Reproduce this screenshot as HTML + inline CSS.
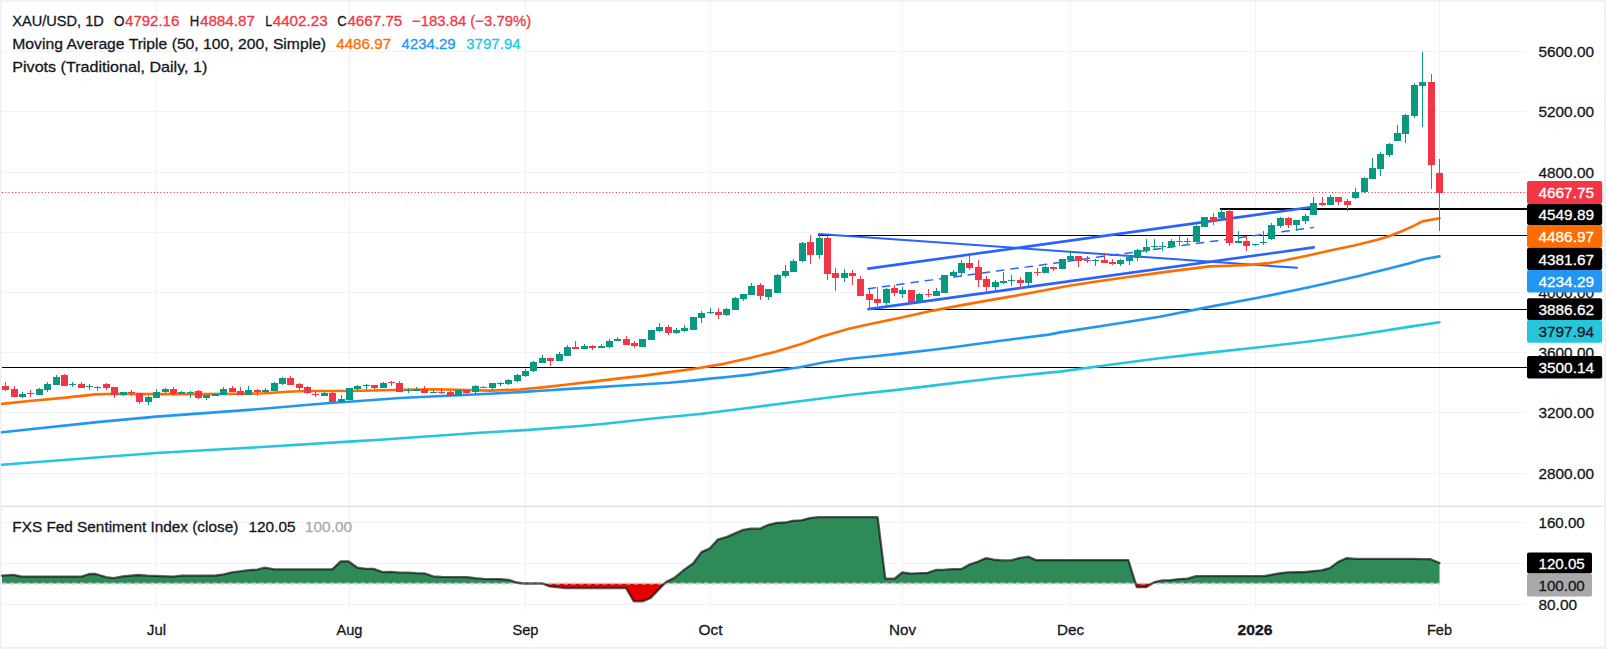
<!DOCTYPE html>
<html lang="en"><head><meta charset="utf-8"><title>XAU/USD 1D chart</title>
<style>html,body{margin:0;padding:0;background:#fff;}body{width:1606px;height:649px;overflow:hidden;}</style></head>
<body>
<svg width="1606" height="649" viewBox="0 0 1606 649" style="display:block;font-family:'Liberation Sans', Arial, sans-serif">
<rect x="0" y="0" width="1606" height="649" fill="#eff1f6"/>
<rect x="1.8" y="1.9" width="1602.2" height="644.9" rx="1.5" fill="#ffffff"/>
<path d="M156.5 2V611 M349.5 2V611 M525.5 2V611 M710.5 2V611 M902.5 2V611 M1070.5 2V611 M1255.5 2V611 M1439.5 2V611 M2 51.5H1527 M2 111.5H1527 M2 172.5H1527 M2 232.5H1527 M2 292.5H1527 M2 352.5H1527 M2 412.5H1527 M2 473.5H1527 M2 522.5H1527 M2 563.5H1527 M2 604.5H1527" stroke="#f0f2f5" stroke-width="1" fill="none" shape-rendering="crispEdges"/>
<rect x="2" y="505.5" width="1601.5" height="1.5" fill="#e0e3eb"/>
<g shape-rendering="crispEdges" fill="#000">
<rect x="1220" y="208" width="307" height="2"/>
<rect x="818" y="235" width="709" height="1"/>
<rect x="868" y="309" width="659" height="1"/>
<rect x="2" y="367" width="1525" height="1"/>
</g>
<path d="M818.8 234.0 L1297.0 267.8" fill="none" stroke="#2962ff" stroke-width="2.0" stroke-linejoin="round" stroke-linecap="round" />
<path d="M868.2 268.6 L1310.5 207.3" fill="none" stroke="#2962ff" stroke-width="2.6" stroke-linejoin="round" stroke-linecap="round" />
<path d="M868.5 309.1 L1313.8 247.4" fill="none" stroke="#2962ff" stroke-width="2.6" stroke-linejoin="round" stroke-linecap="round" />
<path d="M868.3 288.7 L1313.3 227.5" fill="none" stroke="#2962ff" stroke-width="1.5" stroke-linejoin="round" stroke-linecap="round" stroke-dasharray="7.2 7.2"/>
<path d="M2.0 464.7 L99.6 457.2 L156.4 453.0 L249.0 447.8 L348.7 441.6 L380.0 439.7 L429.8 436.2 L479.6 432.8 L525.6 430.1 L580.0 426.0 L600.0 424.2 L655.2 418.2 L700.0 414.0 L749.8 407.7 L799.6 401.2 L849.4 395.0 L899.3 389.6 L949.1 383.6 L998.9 377.8 L1048.7 372.6 L1060.0 371.6 L1109.8 364.8 L1159.6 358.3 L1209.4 352.6 L1259.3 347.2 L1309.1 341.5 L1358.9 334.7 L1408.7 326.9 L1439.5 322.2" fill="none" stroke="#26c6da" stroke-width="2.6" stroke-linejoin="round" stroke-linecap="round" />
<path d="M2.0 432.3 L99.6 421.9 L156.4 416.6 L249.0 409.9 L329.4 403.0 L348.7 401.8 L400.0 398.0 L489.4 393.7 L520.0 392.1 L544.9 390.5 L569.8 388.9 L594.7 387.4 L619.6 385.8 L644.5 384.3 L669.4 382.8 L694.4 380.4 L710.0 378.6 L724.9 377.2 L749.8 374.6 L774.7 371.0 L799.6 367.2 L824.5 362.3 L849.4 358.7 L877.4 356.0 L899.3 353.6 L932.9 349.8 L949.1 347.8 L998.9 341.0 L1048.7 334.6 L1060.0 332.4 L1109.8 324.7 L1159.6 316.7 L1209.4 306.9 L1259.3 297.5 L1309.1 287.3 L1358.9 276.0 L1389.0 268.4 L1408.7 263.5 L1423.6 259.3 L1439.5 256.4" fill="none" stroke="#2196f3" stroke-width="2.6" stroke-linejoin="round" stroke-linecap="round" />
<path d="M2.0 403.9 L31.8 400.8 L63.5 397.9 L95.3 394.4 L116.4 393.7 L148.2 394.1 L169.4 394.1 L202.0 394.1 L244.7 393.7 L265.9 393.3 L287.0 391.8 L308.2 391.0 L329.4 391.0 L362.3 390.7 L404.7 389.8 L436.0 389.3 L468.0 390.0 L489.4 390.6 L520.0 389.5 L544.9 387.1 L569.8 384.3 L594.7 381.4 L619.6 378.4 L644.5 375.6 L669.4 372.1 L694.4 368.7 L724.9 363.6 L749.8 357.9 L774.7 351.9 L799.6 344.6 L821.9 336.5 L849.7 328.6 L877.4 322.6 L905.1 316.7 L932.9 310.6 L960.6 305.4 L982.7 301.4 L1010.5 296.6 L1030.0 293.0 L1050.0 289.2 L1070.5 285.5 L1100.0 281.0 L1130.0 276.8 L1169.8 271.4 L1209.7 266.4 L1229.6 265.7 L1249.5 264.9 L1269.4 263.1 L1285.0 260.3 L1308.1 255.5 L1331.2 250.3 L1354.3 245.4 L1377.4 239.8 L1389.0 236.3 L1400.5 231.8 L1412.1 226.6 L1422.5 221.4 L1439.5 218.3" fill="none" stroke="#ff6d00" stroke-width="2.6" stroke-linejoin="round" stroke-linecap="round" />
<path d="M2 192.5H1527" stroke="#f23645" stroke-width="1" stroke-dasharray="1.1 2.2" fill="none"/>
<g shape-rendering="crispEdges">
<rect x="5" y="382" width="1" height="9" fill="#f23645"/>
<rect x="2" y="386" width="7" height="4" fill="#f23645"/>
<rect x="14" y="386" width="1" height="11" fill="#f23645"/>
<rect x="11" y="389" width="7" height="8" fill="#f23645"/>
<rect x="22" y="392" width="1" height="6" fill="#089981"/>
<rect x="19" y="394" width="7" height="3" fill="#089981"/>
<rect x="30" y="390" width="1" height="7" fill="#f23645"/>
<rect x="27" y="393" width="7" height="1" fill="#f23645"/>
<rect x="39" y="388" width="1" height="7" fill="#089981"/>
<rect x="36" y="389" width="7" height="6" fill="#089981"/>
<rect x="47" y="382" width="1" height="10" fill="#089981"/>
<rect x="44" y="384" width="7" height="6" fill="#089981"/>
<rect x="56" y="375" width="1" height="10" fill="#089981"/>
<rect x="53" y="377" width="7" height="8" fill="#089981"/>
<rect x="64" y="374" width="1" height="12" fill="#f23645"/>
<rect x="61" y="375" width="7" height="11" fill="#f23645"/>
<rect x="72" y="382" width="1" height="5" fill="#089981"/>
<rect x="69" y="384" width="7" height="1" fill="#089981"/>
<rect x="81" y="382" width="1" height="6" fill="#f23645"/>
<rect x="78" y="384" width="7" height="4" fill="#f23645"/>
<rect x="89" y="384" width="1" height="6" fill="#089981"/>
<rect x="86" y="386" width="7" height="1" fill="#089981"/>
<rect x="97" y="386" width="1" height="5" fill="#f23645"/>
<rect x="94" y="387" width="7" height="1" fill="#f23645"/>
<rect x="106" y="383" width="1" height="7" fill="#f23645"/>
<rect x="103" y="384" width="7" height="4" fill="#f23645"/>
<rect x="114" y="387" width="1" height="11" fill="#f23645"/>
<rect x="111" y="387" width="7" height="8" fill="#f23645"/>
<rect x="123" y="392" width="1" height="4" fill="#089981"/>
<rect x="120" y="392" width="7" height="3" fill="#089981"/>
<rect x="131" y="390" width="1" height="6" fill="#f23645"/>
<rect x="128" y="392" width="7" height="1" fill="#f23645"/>
<rect x="139" y="393" width="1" height="11" fill="#f23645"/>
<rect x="136" y="393" width="7" height="9" fill="#f23645"/>
<rect x="148" y="396" width="1" height="9" fill="#089981"/>
<rect x="145" y="397" width="7" height="5" fill="#089981"/>
<rect x="156" y="389" width="1" height="9" fill="#089981"/>
<rect x="153" y="392" width="7" height="6" fill="#089981"/>
<rect x="165" y="388" width="1" height="5" fill="#089981"/>
<rect x="162" y="389" width="7" height="3" fill="#089981"/>
<rect x="173" y="387" width="1" height="9" fill="#f23645"/>
<rect x="170" y="389" width="7" height="5" fill="#f23645"/>
<rect x="181" y="391" width="1" height="3" fill="#089981"/>
<rect x="178" y="392" width="7" height="2" fill="#089981"/>
<rect x="190" y="391" width="1" height="7" fill="#089981"/>
<rect x="187" y="392" width="7" height="1" fill="#089981"/>
<rect x="198" y="390" width="1" height="9" fill="#f23645"/>
<rect x="195" y="391" width="7" height="7" fill="#f23645"/>
<rect x="206" y="395" width="1" height="5" fill="#089981"/>
<rect x="203" y="395" width="7" height="3" fill="#089981"/>
<rect x="215" y="393" width="1" height="3" fill="#089981"/>
<rect x="212" y="394" width="7" height="2" fill="#089981"/>
<rect x="223" y="387" width="1" height="8" fill="#089981"/>
<rect x="220" y="389" width="7" height="6" fill="#089981"/>
<rect x="232" y="386" width="1" height="6" fill="#f23645"/>
<rect x="229" y="388" width="7" height="4" fill="#f23645"/>
<rect x="240" y="387" width="1" height="8" fill="#f23645"/>
<rect x="237" y="391" width="7" height="4" fill="#f23645"/>
<rect x="248" y="386" width="1" height="9" fill="#089981"/>
<rect x="245" y="390" width="7" height="5" fill="#089981"/>
<rect x="257" y="389" width="1" height="7" fill="#f23645"/>
<rect x="254" y="390" width="7" height="2" fill="#f23645"/>
<rect x="265" y="388" width="1" height="5" fill="#089981"/>
<rect x="262" y="390" width="7" height="2" fill="#089981"/>
<rect x="274" y="382" width="1" height="9" fill="#089981"/>
<rect x="271" y="383" width="7" height="8" fill="#089981"/>
<rect x="282" y="377" width="1" height="8" fill="#089981"/>
<rect x="279" y="378" width="7" height="6" fill="#089981"/>
<rect x="290" y="376" width="1" height="9" fill="#f23645"/>
<rect x="287" y="378" width="7" height="7" fill="#f23645"/>
<rect x="299" y="383" width="1" height="7" fill="#f23645"/>
<rect x="296" y="384" width="7" height="4" fill="#f23645"/>
<rect x="307" y="386" width="1" height="8" fill="#f23645"/>
<rect x="304" y="387" width="7" height="6" fill="#f23645"/>
<rect x="315" y="391" width="1" height="6" fill="#f23645"/>
<rect x="312" y="394" width="7" height="1" fill="#f23645"/>
<rect x="324" y="392" width="1" height="4" fill="#089981"/>
<rect x="321" y="393" width="7" height="3" fill="#089981"/>
<rect x="332" y="392" width="1" height="10" fill="#f23645"/>
<rect x="329" y="393" width="7" height="9" fill="#f23645"/>
<rect x="341" y="395" width="1" height="7" fill="#089981"/>
<rect x="338" y="399" width="7" height="3" fill="#089981"/>
<rect x="349" y="388" width="1" height="12" fill="#089981"/>
<rect x="346" y="388" width="7" height="12" fill="#089981"/>
<rect x="357" y="385" width="1" height="6" fill="#089981"/>
<rect x="354" y="386" width="7" height="3" fill="#089981"/>
<rect x="366" y="384" width="1" height="6" fill="#089981"/>
<rect x="363" y="385" width="7" height="1" fill="#089981"/>
<rect x="374" y="385" width="1" height="4" fill="#f23645"/>
<rect x="371" y="385" width="7" height="3" fill="#f23645"/>
<rect x="383" y="382" width="1" height="6" fill="#089981"/>
<rect x="380" y="383" width="7" height="5" fill="#089981"/>
<rect x="391" y="381" width="1" height="5" fill="#f23645"/>
<rect x="388" y="382" width="7" height="1" fill="#f23645"/>
<rect x="399" y="381" width="1" height="11" fill="#f23645"/>
<rect x="396" y="383" width="7" height="9" fill="#f23645"/>
<rect x="408" y="388" width="1" height="5" fill="#089981"/>
<rect x="405" y="390" width="7" height="1" fill="#089981"/>
<rect x="416" y="387" width="1" height="4" fill="#089981"/>
<rect x="413" y="389" width="7" height="2" fill="#089981"/>
<rect x="424" y="386" width="1" height="7" fill="#f23645"/>
<rect x="421" y="389" width="7" height="4" fill="#f23645"/>
<rect x="433" y="390" width="1" height="3" fill="#089981"/>
<rect x="430" y="392" width="7" height="1" fill="#089981"/>
<rect x="441" y="389" width="1" height="5" fill="#f23645"/>
<rect x="438" y="392" width="7" height="1" fill="#f23645"/>
<rect x="450" y="391" width="1" height="5" fill="#f23645"/>
<rect x="447" y="392" width="7" height="4" fill="#f23645"/>
<rect x="458" y="390" width="1" height="6" fill="#089981"/>
<rect x="455" y="390" width="7" height="6" fill="#089981"/>
<rect x="466" y="390" width="1" height="4" fill="#f23645"/>
<rect x="463" y="390" width="7" height="3" fill="#f23645"/>
<rect x="475" y="385" width="1" height="9" fill="#089981"/>
<rect x="472" y="386" width="7" height="6" fill="#089981"/>
<rect x="483" y="386" width="1" height="2" fill="#f23645"/>
<rect x="480" y="387" width="7" height="1" fill="#f23645"/>
<rect x="492" y="383" width="1" height="7" fill="#089981"/>
<rect x="489" y="383" width="7" height="5" fill="#089981"/>
<rect x="500" y="382" width="1" height="4" fill="#089981"/>
<rect x="497" y="383" width="7" height="1" fill="#089981"/>
<rect x="508" y="379" width="1" height="6" fill="#089981"/>
<rect x="505" y="380" width="7" height="4" fill="#089981"/>
<rect x="517" y="374" width="1" height="8" fill="#089981"/>
<rect x="514" y="375" width="7" height="6" fill="#089981"/>
<rect x="525" y="369" width="1" height="8" fill="#089981"/>
<rect x="522" y="371" width="7" height="5" fill="#089981"/>
<rect x="533" y="361" width="1" height="11" fill="#089981"/>
<rect x="530" y="362" width="7" height="9" fill="#089981"/>
<rect x="542" y="355" width="1" height="8" fill="#089981"/>
<rect x="539" y="358" width="7" height="5" fill="#089981"/>
<rect x="550" y="358" width="1" height="8" fill="#f23645"/>
<rect x="547" y="358" width="7" height="3" fill="#f23645"/>
<rect x="559" y="352" width="1" height="9" fill="#089981"/>
<rect x="556" y="354" width="7" height="7" fill="#089981"/>
<rect x="567" y="345" width="1" height="11" fill="#089981"/>
<rect x="564" y="347" width="7" height="9" fill="#089981"/>
<rect x="575" y="341" width="1" height="8" fill="#f23645"/>
<rect x="572" y="347" width="7" height="2" fill="#f23645"/>
<rect x="584" y="344" width="1" height="5" fill="#089981"/>
<rect x="581" y="346" width="7" height="3" fill="#089981"/>
<rect x="592" y="345" width="1" height="5" fill="#f23645"/>
<rect x="589" y="346" width="7" height="2" fill="#f23645"/>
<rect x="601" y="344" width="1" height="4" fill="#089981"/>
<rect x="598" y="346" width="7" height="2" fill="#089981"/>
<rect x="609" y="339" width="1" height="9" fill="#089981"/>
<rect x="606" y="341" width="7" height="6" fill="#089981"/>
<rect x="617" y="337" width="1" height="4" fill="#089981"/>
<rect x="614" y="339" width="7" height="2" fill="#089981"/>
<rect x="626" y="336" width="1" height="9" fill="#f23645"/>
<rect x="623" y="339" width="7" height="6" fill="#f23645"/>
<rect x="634" y="341" width="1" height="7" fill="#f23645"/>
<rect x="631" y="343" width="7" height="3" fill="#f23645"/>
<rect x="642" y="339" width="1" height="8" fill="#089981"/>
<rect x="639" y="339" width="7" height="8" fill="#089981"/>
<rect x="651" y="330" width="1" height="10" fill="#089981"/>
<rect x="648" y="330" width="7" height="10" fill="#089981"/>
<rect x="659" y="323" width="1" height="9" fill="#089981"/>
<rect x="656" y="327" width="7" height="4" fill="#089981"/>
<rect x="668" y="325" width="1" height="10" fill="#f23645"/>
<rect x="665" y="327" width="7" height="6" fill="#f23645"/>
<rect x="676" y="328" width="1" height="6" fill="#089981"/>
<rect x="673" y="330" width="7" height="3" fill="#089981"/>
<rect x="684" y="325" width="1" height="7" fill="#089981"/>
<rect x="681" y="328" width="7" height="3" fill="#089981"/>
<rect x="693" y="317" width="1" height="13" fill="#089981"/>
<rect x="690" y="317" width="7" height="13" fill="#089981"/>
<rect x="701" y="311" width="1" height="12" fill="#089981"/>
<rect x="698" y="313" width="7" height="5" fill="#089981"/>
<rect x="710" y="308" width="1" height="6" fill="#089981"/>
<rect x="707" y="312" width="7" height="1" fill="#089981"/>
<rect x="718" y="308" width="1" height="11" fill="#f23645"/>
<rect x="715" y="312" width="7" height="3" fill="#f23645"/>
<rect x="726" y="308" width="1" height="8" fill="#089981"/>
<rect x="723" y="309" width="7" height="6" fill="#089981"/>
<rect x="735" y="297" width="1" height="13" fill="#089981"/>
<rect x="732" y="298" width="7" height="12" fill="#089981"/>
<rect x="743" y="294" width="1" height="7" fill="#089981"/>
<rect x="740" y="294" width="7" height="5" fill="#089981"/>
<rect x="751" y="283" width="1" height="12" fill="#089981"/>
<rect x="748" y="286" width="7" height="9" fill="#089981"/>
<rect x="760" y="283" width="1" height="17" fill="#f23645"/>
<rect x="757" y="285" width="7" height="11" fill="#f23645"/>
<rect x="768" y="289" width="1" height="11" fill="#089981"/>
<rect x="765" y="289" width="7" height="8" fill="#089981"/>
<rect x="777" y="274" width="1" height="19" fill="#089981"/>
<rect x="774" y="275" width="7" height="18" fill="#089981"/>
<rect x="785" y="265" width="1" height="13" fill="#089981"/>
<rect x="782" y="271" width="7" height="5" fill="#089981"/>
<rect x="793" y="259" width="1" height="13" fill="#089981"/>
<rect x="790" y="261" width="7" height="11" fill="#089981"/>
<rect x="802" y="242" width="1" height="20" fill="#089981"/>
<rect x="799" y="243" width="7" height="18" fill="#089981"/>
<rect x="810" y="235" width="1" height="29" fill="#f23645"/>
<rect x="807" y="242" width="7" height="13" fill="#f23645"/>
<rect x="819" y="235" width="1" height="24" fill="#089981"/>
<rect x="816" y="238" width="7" height="17" fill="#089981"/>
<rect x="827" y="236" width="1" height="44" fill="#f23645"/>
<rect x="824" y="238" width="7" height="36" fill="#f23645"/>
<rect x="835" y="268" width="1" height="23" fill="#f23645"/>
<rect x="832" y="273" width="7" height="5" fill="#f23645"/>
<rect x="844" y="269" width="1" height="13" fill="#089981"/>
<rect x="841" y="273" width="7" height="5" fill="#089981"/>
<rect x="852" y="270" width="1" height="15" fill="#f23645"/>
<rect x="849" y="273" width="7" height="3" fill="#f23645"/>
<rect x="860" y="276" width="1" height="20" fill="#f23645"/>
<rect x="857" y="279" width="7" height="17" fill="#f23645"/>
<rect x="869" y="289" width="1" height="20" fill="#f23645"/>
<rect x="866" y="294" width="7" height="6" fill="#f23645"/>
<rect x="877" y="287" width="1" height="19" fill="#f23645"/>
<rect x="874" y="299" width="7" height="4" fill="#f23645"/>
<rect x="886" y="288" width="1" height="17" fill="#089981"/>
<rect x="883" y="289" width="7" height="14" fill="#089981"/>
<rect x="894" y="285" width="1" height="11" fill="#f23645"/>
<rect x="891" y="288" width="7" height="5" fill="#f23645"/>
<rect x="902" y="287" width="1" height="11" fill="#089981"/>
<rect x="899" y="290" width="7" height="4" fill="#089981"/>
<rect x="911" y="290" width="1" height="13" fill="#f23645"/>
<rect x="908" y="290" width="7" height="12" fill="#f23645"/>
<rect x="919" y="293" width="1" height="10" fill="#089981"/>
<rect x="916" y="294" width="7" height="8" fill="#089981"/>
<rect x="928" y="289" width="1" height="8" fill="#f23645"/>
<rect x="925" y="294" width="7" height="1" fill="#f23645"/>
<rect x="936" y="288" width="1" height="8" fill="#089981"/>
<rect x="933" y="291" width="7" height="5" fill="#089981"/>
<rect x="944" y="275" width="1" height="18" fill="#089981"/>
<rect x="941" y="275" width="7" height="18" fill="#089981"/>
<rect x="953" y="270" width="1" height="7" fill="#089981"/>
<rect x="950" y="272" width="7" height="4" fill="#089981"/>
<rect x="961" y="260" width="1" height="17" fill="#089981"/>
<rect x="958" y="263" width="7" height="10" fill="#089981"/>
<rect x="969" y="255" width="1" height="15" fill="#f23645"/>
<rect x="966" y="263" width="7" height="5" fill="#f23645"/>
<rect x="978" y="260" width="1" height="27" fill="#f23645"/>
<rect x="975" y="267" width="7" height="13" fill="#f23645"/>
<rect x="986" y="276" width="1" height="15" fill="#f23645"/>
<rect x="983" y="279" width="7" height="8" fill="#f23645"/>
<rect x="995" y="280" width="1" height="12" fill="#089981"/>
<rect x="992" y="282" width="7" height="5" fill="#089981"/>
<rect x="1003" y="272" width="1" height="12" fill="#089981"/>
<rect x="1000" y="281" width="7" height="2" fill="#089981"/>
<rect x="1011" y="275" width="1" height="11" fill="#089981"/>
<rect x="1008" y="280" width="7" height="1" fill="#089981"/>
<rect x="1020" y="277" width="1" height="12" fill="#f23645"/>
<rect x="1017" y="280" width="7" height="3" fill="#f23645"/>
<rect x="1028" y="272" width="1" height="14" fill="#089981"/>
<rect x="1025" y="272" width="7" height="11" fill="#089981"/>
<rect x="1037" y="268" width="1" height="8" fill="#f23645"/>
<rect x="1034" y="272" width="7" height="1" fill="#f23645"/>
<rect x="1045" y="266" width="1" height="7" fill="#089981"/>
<rect x="1042" y="267" width="7" height="6" fill="#089981"/>
<rect x="1053" y="267" width="1" height="4" fill="#f23645"/>
<rect x="1050" y="267" width="7" height="2" fill="#f23645"/>
<rect x="1062" y="259" width="1" height="10" fill="#089981"/>
<rect x="1059" y="259" width="7" height="10" fill="#089981"/>
<rect x="1070" y="252" width="1" height="9" fill="#089981"/>
<rect x="1067" y="256" width="7" height="4" fill="#089981"/>
<rect x="1078" y="256" width="1" height="11" fill="#f23645"/>
<rect x="1075" y="256" width="7" height="5" fill="#f23645"/>
<rect x="1087" y="256" width="1" height="7" fill="#f23645"/>
<rect x="1084" y="260" width="7" height="1" fill="#f23645"/>
<rect x="1095" y="259" width="1" height="7" fill="#089981"/>
<rect x="1092" y="260" width="7" height="1" fill="#089981"/>
<rect x="1104" y="253" width="1" height="10" fill="#f23645"/>
<rect x="1101" y="260" width="7" height="3" fill="#f23645"/>
<rect x="1112" y="259" width="1" height="6" fill="#f23645"/>
<rect x="1109" y="262" width="7" height="2" fill="#f23645"/>
<rect x="1120" y="259" width="1" height="7" fill="#089981"/>
<rect x="1117" y="260" width="7" height="4" fill="#089981"/>
<rect x="1129" y="256" width="1" height="9" fill="#089981"/>
<rect x="1126" y="257" width="7" height="4" fill="#089981"/>
<rect x="1137" y="249" width="1" height="12" fill="#089981"/>
<rect x="1134" y="250" width="7" height="8" fill="#089981"/>
<rect x="1146" y="239" width="1" height="14" fill="#089981"/>
<rect x="1143" y="247" width="7" height="4" fill="#089981"/>
<rect x="1154" y="239" width="1" height="10" fill="#089981"/>
<rect x="1151" y="246" width="7" height="1" fill="#089981"/>
<rect x="1162" y="242" width="1" height="9" fill="#089981"/>
<rect x="1159" y="246" width="7" height="1" fill="#089981"/>
<rect x="1171" y="239" width="1" height="8" fill="#089981"/>
<rect x="1168" y="241" width="7" height="6" fill="#089981"/>
<rect x="1179" y="236" width="1" height="10" fill="#f23645"/>
<rect x="1176" y="241" width="7" height="1" fill="#f23645"/>
<rect x="1187" y="238" width="1" height="7" fill="#089981"/>
<rect x="1184" y="241" width="7" height="1" fill="#089981"/>
<rect x="1196" y="225" width="1" height="17" fill="#089981"/>
<rect x="1193" y="226" width="7" height="16" fill="#089981"/>
<rect x="1204" y="217" width="1" height="10" fill="#089981"/>
<rect x="1201" y="217" width="7" height="10" fill="#089981"/>
<rect x="1213" y="213" width="1" height="12" fill="#f23645"/>
<rect x="1210" y="217" width="7" height="4" fill="#f23645"/>
<rect x="1221" y="209" width="1" height="12" fill="#089981"/>
<rect x="1218" y="212" width="7" height="6" fill="#089981"/>
<rect x="1229" y="209" width="1" height="37" fill="#f23645"/>
<rect x="1226" y="211" width="7" height="32" fill="#f23645"/>
<rect x="1238" y="231" width="1" height="12" fill="#089981"/>
<rect x="1235" y="241" width="7" height="2" fill="#089981"/>
<rect x="1246" y="236" width="1" height="15" fill="#f23645"/>
<rect x="1243" y="241" width="7" height="5" fill="#f23645"/>
<rect x="1255" y="244" width="1" height="2" fill="#089981"/>
<rect x="1252" y="244" width="7" height="1" fill="#089981"/>
<rect x="1263" y="231" width="1" height="14" fill="#089981"/>
<rect x="1260" y="242" width="7" height="1" fill="#089981"/>
<rect x="1271" y="223" width="1" height="17" fill="#089981"/>
<rect x="1268" y="225" width="7" height="14" fill="#089981"/>
<rect x="1280" y="217" width="1" height="11" fill="#089981"/>
<rect x="1277" y="218" width="7" height="8" fill="#089981"/>
<rect x="1288" y="217" width="1" height="11" fill="#f23645"/>
<rect x="1285" y="218" width="7" height="7" fill="#f23645"/>
<rect x="1296" y="220" width="1" height="11" fill="#089981"/>
<rect x="1293" y="220" width="7" height="5" fill="#089981"/>
<rect x="1305" y="214" width="1" height="10" fill="#089981"/>
<rect x="1302" y="216" width="7" height="5" fill="#089981"/>
<rect x="1313" y="197" width="1" height="18" fill="#089981"/>
<rect x="1310" y="203" width="7" height="12" fill="#089981"/>
<rect x="1322" y="197" width="1" height="9" fill="#f23645"/>
<rect x="1319" y="203" width="7" height="2" fill="#f23645"/>
<rect x="1330" y="195" width="1" height="10" fill="#089981"/>
<rect x="1327" y="197" width="7" height="8" fill="#089981"/>
<rect x="1338" y="197" width="1" height="8" fill="#f23645"/>
<rect x="1335" y="197" width="7" height="5" fill="#f23645"/>
<rect x="1347" y="199" width="1" height="12" fill="#f23645"/>
<rect x="1344" y="201" width="7" height="4" fill="#f23645"/>
<rect x="1355" y="188" width="1" height="11" fill="#089981"/>
<rect x="1352" y="192" width="7" height="6" fill="#089981"/>
<rect x="1364" y="177" width="1" height="16" fill="#089981"/>
<rect x="1361" y="178" width="7" height="14" fill="#089981"/>
<rect x="1372" y="158" width="1" height="21" fill="#089981"/>
<rect x="1369" y="168" width="7" height="11" fill="#089981"/>
<rect x="1380" y="152" width="1" height="24" fill="#089981"/>
<rect x="1377" y="154" width="7" height="15" fill="#089981"/>
<rect x="1389" y="143" width="1" height="14" fill="#089981"/>
<rect x="1386" y="144" width="7" height="11" fill="#089981"/>
<rect x="1397" y="125" width="1" height="16" fill="#089981"/>
<rect x="1394" y="133" width="7" height="8" fill="#089981"/>
<rect x="1405" y="114" width="1" height="29" fill="#089981"/>
<rect x="1402" y="115" width="7" height="19" fill="#089981"/>
<rect x="1414" y="83" width="1" height="35" fill="#089981"/>
<rect x="1411" y="85" width="7" height="31" fill="#089981"/>
<rect x="1422" y="52" width="1" height="75" fill="#089981"/>
<rect x="1419" y="82" width="7" height="4" fill="#089981"/>
<rect x="1431" y="74" width="1" height="115" fill="#f23645"/>
<rect x="1428" y="82" width="7" height="83" fill="#f23645"/>
<rect x="1439" y="159" width="1" height="72" fill="#f23645"/>
<rect x="1436" y="173" width="7" height="20" fill="#f23645"/>
</g>
<defs><clipPath id="ca"><rect x="0" y="500" width="1606" height="84"/></clipPath><clipPath id="cb"><rect x="0" y="584" width="1606" height="40"/></clipPath></defs>
<path d="M2.0 575.6 L13.4 574.9 L21.9 576.6 L81.5 576.6 L89.1 574.0 L95.8 574.0 L105.9 577.2 L113.5 578.2 L122.7 576.4 L137.9 575.0 L147.9 575.7 L173.2 576.6 L181.6 575.7 L215.2 575.6 L223.6 574.4 L232.0 572.4 L248.8 570.2 L257.2 569.7 L264.8 567.7 L274.3 569.3 L332.3 569.3 L340.7 561.3 L348.3 561.3 L357.5 567.7 L365.9 568.8 L373.5 568.8 L382.7 572.2 L391.1 571.9 L399.5 572.7 L408.0 572.7 L416.4 573.2 L424.8 573.5 L433.2 576.4 L441.6 576.9 L466.8 577.2 L475.2 578.2 L483.6 578.9 L500.4 579.1 L508.8 579.9 L516.8 582.5 L523.6 583.5 L542.2 583.5 L549.8 586.4 L565.9 588.1 L626.1 588.1 L633.7 601.3 L643.0 601.3 L650.7 597.9 L665.9 582.1 L674.4 577.9 L684.6 569.4 L693.1 563.5 L701.5 552.1 L710.0 548.2 L717.6 539.7 L726.9 536.9 L743.1 529.9 L750.7 528.7 L760.0 528.7 L768.5 524.8 L776.8 522.8 L785.3 522.5 L792.9 520.8 L801.4 520.3 L809.8 518.1 L818.3 517.2 L877.6 517.2 L885.3 578.7 L894.6 578.7 L902.2 572.5 L910.7 573.6 L927.6 572.8 L936.1 569.9 L944.6 569.7 L953.1 569.1 L961.5 569.1 L969.2 564.7 L977.6 561.8 L986.1 558.1 L993.7 559.6 L1002.2 560.4 L1010.7 560.4 L1019.2 558.1 L1028.5 556.7 L1035.9 560.1 L1128.3 560.1 L1136.8 587.2 L1146.1 587.2 L1154.6 582.1 L1162.2 580.4 L1170.7 580.1 L1179.2 579.1 L1187.6 578.7 L1196.1 576.2 L1263.9 576.2 L1270.7 575.0 L1279.2 573.3 L1287.6 572.3 L1305.3 572.0 L1321.4 570.3 L1329.8 568.1 L1338.3 561.8 L1346.8 558.1 L1356.1 558.9 L1413.7 558.9 L1422.2 559.2 L1430.7 559.2 L1439.5 563.0 L1439.5 583.5 L2.0 583.5 Z" fill="#2e8b57" clip-path="url(#ca)"/>
<path d="M2.0 575.6 L13.4 574.9 L21.9 576.6 L81.5 576.6 L89.1 574.0 L95.8 574.0 L105.9 577.2 L113.5 578.2 L122.7 576.4 L137.9 575.0 L147.9 575.7 L173.2 576.6 L181.6 575.7 L215.2 575.6 L223.6 574.4 L232.0 572.4 L248.8 570.2 L257.2 569.7 L264.8 567.7 L274.3 569.3 L332.3 569.3 L340.7 561.3 L348.3 561.3 L357.5 567.7 L365.9 568.8 L373.5 568.8 L382.7 572.2 L391.1 571.9 L399.5 572.7 L408.0 572.7 L416.4 573.2 L424.8 573.5 L433.2 576.4 L441.6 576.9 L466.8 577.2 L475.2 578.2 L483.6 578.9 L500.4 579.1 L508.8 579.9 L516.8 582.5 L523.6 583.5 L542.2 583.5 L549.8 586.4 L565.9 588.1 L626.1 588.1 L633.7 601.3 L643.0 601.3 L650.7 597.9 L665.9 582.1 L674.4 577.9 L684.6 569.4 L693.1 563.5 L701.5 552.1 L710.0 548.2 L717.6 539.7 L726.9 536.9 L743.1 529.9 L750.7 528.7 L760.0 528.7 L768.5 524.8 L776.8 522.8 L785.3 522.5 L792.9 520.8 L801.4 520.3 L809.8 518.1 L818.3 517.2 L877.6 517.2 L885.3 578.7 L894.6 578.7 L902.2 572.5 L910.7 573.6 L927.6 572.8 L936.1 569.9 L944.6 569.7 L953.1 569.1 L961.5 569.1 L969.2 564.7 L977.6 561.8 L986.1 558.1 L993.7 559.6 L1002.2 560.4 L1010.7 560.4 L1019.2 558.1 L1028.5 556.7 L1035.9 560.1 L1128.3 560.1 L1136.8 587.2 L1146.1 587.2 L1154.6 582.1 L1162.2 580.4 L1170.7 580.1 L1179.2 579.1 L1187.6 578.7 L1196.1 576.2 L1263.9 576.2 L1270.7 575.0 L1279.2 573.3 L1287.6 572.3 L1305.3 572.0 L1321.4 570.3 L1329.8 568.1 L1338.3 561.8 L1346.8 558.1 L1356.1 558.9 L1413.7 558.9 L1422.2 559.2 L1430.7 559.2 L1439.5 563.0 L1439.5 583.5 L2.0 583.5 Z" fill="#e60000" clip-path="url(#cb)"/>
<path d="M2 583.5H1439.5" stroke="#c8c8c8" stroke-width="2.2" stroke-dasharray="4.3 3.5" fill="none"/>
<path d="M2.0 575.6 L13.4 574.9 L21.9 576.6 L81.5 576.6 L89.1 574.0 L95.8 574.0 L105.9 577.2 L113.5 578.2 L122.7 576.4 L137.9 575.0 L147.9 575.7 L173.2 576.6 L181.6 575.7 L215.2 575.6 L223.6 574.4 L232.0 572.4 L248.8 570.2 L257.2 569.7 L264.8 567.7 L274.3 569.3 L332.3 569.3 L340.7 561.3 L348.3 561.3 L357.5 567.7 L365.9 568.8 L373.5 568.8 L382.7 572.2 L391.1 571.9 L399.5 572.7 L408.0 572.7 L416.4 573.2 L424.8 573.5 L433.2 576.4 L441.6 576.9 L466.8 577.2 L475.2 578.2 L483.6 578.9 L500.4 579.1 L508.8 579.9 L516.8 582.5 L523.6 583.5 L542.2 583.5 L549.8 586.4 L565.9 588.1 L626.1 588.1 L633.7 601.3 L643.0 601.3 L650.7 597.9 L665.9 582.1 L674.4 577.9 L684.6 569.4 L693.1 563.5 L701.5 552.1 L710.0 548.2 L717.6 539.7 L726.9 536.9 L743.1 529.9 L750.7 528.7 L760.0 528.7 L768.5 524.8 L776.8 522.8 L785.3 522.5 L792.9 520.8 L801.4 520.3 L809.8 518.1 L818.3 517.2 L877.6 517.2 L885.3 578.7 L894.6 578.7 L902.2 572.5 L910.7 573.6 L927.6 572.8 L936.1 569.9 L944.6 569.7 L953.1 569.1 L961.5 569.1 L969.2 564.7 L977.6 561.8 L986.1 558.1 L993.7 559.6 L1002.2 560.4 L1010.7 560.4 L1019.2 558.1 L1028.5 556.7 L1035.9 560.1 L1128.3 560.1 L1136.8 587.2 L1146.1 587.2 L1154.6 582.1 L1162.2 580.4 L1170.7 580.1 L1179.2 579.1 L1187.6 578.7 L1196.1 576.2 L1263.9 576.2 L1270.7 575.0 L1279.2 573.3 L1287.6 572.3 L1305.3 572.0 L1321.4 570.3 L1329.8 568.1 L1338.3 561.8 L1346.8 558.1 L1356.1 558.9 L1413.7 558.9 L1422.2 559.2 L1430.7 559.2 L1439.5 563.0" fill="none" stroke="#000" stroke-width="2.3" stroke-linejoin="round" stroke-linecap="round" stroke-opacity="0.62"/>
<text x="1538.5" y="57.2" font-size="15.4" fill="#131722" stroke="#131722" stroke-width="0.3" font-weight="normal" textLength="55.5" lengthAdjust="spacingAndGlyphs">5600.00</text>
<text x="1538.5" y="117.2" font-size="15.4" fill="#131722" stroke="#131722" stroke-width="0.3" font-weight="normal" textLength="55.5" lengthAdjust="spacingAndGlyphs">5200.00</text>
<text x="1538.5" y="178.2" font-size="15.4" fill="#131722" stroke="#131722" stroke-width="0.3" font-weight="normal" textLength="55.5" lengthAdjust="spacingAndGlyphs">4800.00</text>
<text x="1538.5" y="238.2" font-size="15.4" fill="#131722" stroke="#131722" stroke-width="0.3" font-weight="normal" textLength="55.5" lengthAdjust="spacingAndGlyphs">4400.00</text>
<text x="1538.5" y="298.2" font-size="15.4" fill="#131722" stroke="#131722" stroke-width="0.3" font-weight="normal" textLength="55.5" lengthAdjust="spacingAndGlyphs">4000.00</text>
<text x="1538.5" y="358.2" font-size="15.4" fill="#131722" stroke="#131722" stroke-width="0.3" font-weight="normal" textLength="55.5" lengthAdjust="spacingAndGlyphs">3600.00</text>
<text x="1538.5" y="418.2" font-size="15.4" fill="#131722" stroke="#131722" stroke-width="0.3" font-weight="normal" textLength="55.5" lengthAdjust="spacingAndGlyphs">3200.00</text>
<text x="1538.5" y="479.2" font-size="15.4" fill="#131722" stroke="#131722" stroke-width="0.3" font-weight="normal" textLength="55.5" lengthAdjust="spacingAndGlyphs">2800.00</text>
<text x="1538.5" y="528.2" font-size="15.4" fill="#131722" stroke="#131722" stroke-width="0.3" font-weight="normal" textLength="46.2" lengthAdjust="spacingAndGlyphs">160.00</text>
<text x="1538.5" y="610.2" font-size="15.4" fill="#131722" stroke="#131722" stroke-width="0.3" font-weight="normal" textLength="38.5" lengthAdjust="spacingAndGlyphs">80.00</text>
<rect x="1527" y="181.1" width="75.2" height="22.8" rx="2" fill="#f23645"/>
<text x="1538.5" y="198.1" font-size="15.4" fill="#fff" stroke="#fff" stroke-width="0.3" font-weight="normal" textLength="55.5" lengthAdjust="spacingAndGlyphs">4667.75</text>
<rect x="1527" y="203.9" width="75.2" height="21.1" rx="2" fill="#000"/>
<text x="1538.5" y="220.0" font-size="15.4" fill="#fff" stroke="#fff" stroke-width="0.3" font-weight="normal" textLength="55.5" lengthAdjust="spacingAndGlyphs">4549.89</text>
<rect x="1527" y="225" width="75.2" height="22.8" rx="2" fill="#ff6d00"/>
<text x="1538.5" y="242.0" font-size="15.4" fill="#fff" stroke="#fff" stroke-width="0.3" font-weight="normal" textLength="55.5" lengthAdjust="spacingAndGlyphs">4486.97</text>
<rect x="1527" y="247.8" width="75.2" height="22.2" rx="2" fill="#000"/>
<text x="1538.5" y="264.5" font-size="15.4" fill="#fff" stroke="#fff" stroke-width="0.3" font-weight="normal" textLength="55.5" lengthAdjust="spacingAndGlyphs">4381.67</text>
<rect x="1527" y="270" width="75.2" height="22.6" rx="2" fill="#2196f3"/>
<text x="1538.5" y="286.9" font-size="15.4" fill="#fff" stroke="#fff" stroke-width="0.3" font-weight="normal" textLength="55.5" lengthAdjust="spacingAndGlyphs">4234.29</text>
<rect x="1527" y="298.2" width="75.2" height="21.8" rx="2" fill="#000"/>
<text x="1538.5" y="314.7" font-size="15.4" fill="#fff" stroke="#fff" stroke-width="0.3" font-weight="normal" textLength="55.5" lengthAdjust="spacingAndGlyphs">3886.62</text>
<rect x="1527" y="320" width="75.2" height="22.7" rx="2" fill="#26c6da"/>
<text x="1538.5" y="337.0" font-size="15.4" fill="#131722" stroke="#131722" stroke-width="0.3" font-weight="normal" textLength="55.5" lengthAdjust="spacingAndGlyphs">3797.94</text>
<rect x="1527" y="356" width="75.2" height="22.6" rx="2" fill="#000"/>
<text x="1538.5" y="372.9" font-size="15.4" fill="#fff" stroke="#fff" stroke-width="0.3" font-weight="normal" textLength="55.5" lengthAdjust="spacingAndGlyphs">3500.14</text>
<rect x="1527" y="552.5" width="65" height="21.1" rx="2" fill="#000"/>
<text x="1538.5" y="568.6" font-size="15.4" fill="#fff" stroke="#fff" stroke-width="0.3" font-weight="normal" textLength="46.2" lengthAdjust="spacingAndGlyphs">120.05</text>
<rect x="1527" y="573.6" width="65" height="22.9" rx="2" fill="#a9a9a9"/>
<text x="1538.5" y="590.6" font-size="15.4" fill="#131722" stroke="#131722" stroke-width="0.3" font-weight="normal" textLength="46.2" lengthAdjust="spacingAndGlyphs">100.00</text>
<text x="147.0" y="635" font-size="15.4" fill="#131722" stroke="#131722" stroke-width="0.3" font-weight="normal" textLength="19" lengthAdjust="spacingAndGlyphs">Jul</text>
<text x="336.5" y="635" font-size="15.4" fill="#131722" stroke="#131722" stroke-width="0.3" font-weight="normal" textLength="26" lengthAdjust="spacingAndGlyphs">Aug</text>
<text x="512.5" y="635" font-size="15.4" fill="#131722" stroke="#131722" stroke-width="0.3" font-weight="normal" textLength="26" lengthAdjust="spacingAndGlyphs">Sep</text>
<text x="698.5" y="635" font-size="15.4" fill="#131722" stroke="#131722" stroke-width="0.3" font-weight="normal" textLength="24" lengthAdjust="spacingAndGlyphs">Oct</text>
<text x="889.0" y="635" font-size="15.4" fill="#131722" stroke="#131722" stroke-width="0.3" font-weight="normal" textLength="27" lengthAdjust="spacingAndGlyphs">Nov</text>
<text x="1057.0" y="635" font-size="15.4" fill="#131722" stroke="#131722" stroke-width="0.3" font-weight="normal" textLength="27" lengthAdjust="spacingAndGlyphs">Dec</text>
<text x="1237.5" y="635" font-size="15.4" fill="#131722" stroke="#131722" stroke-width="0.3" font-weight="bold" textLength="35" lengthAdjust="spacingAndGlyphs">2026</text>
<text x="1427.0" y="635" font-size="15.4" fill="#131722" stroke="#131722" stroke-width="0.3" font-weight="normal" textLength="25" lengthAdjust="spacingAndGlyphs">Feb</text>
<text x="12.3" y="26.3" font-size="15" fill="#131722" stroke="#131722" stroke-width="0.3" textLength="91.5" lengthAdjust="spacingAndGlyphs">XAU/USD, 1D</text>
<text x="113.9" y="26.3" font-size="15" fill="#131722" stroke="#131722" stroke-width="0.3" textLength="10.5" lengthAdjust="spacingAndGlyphs">O</text>
<text x="125.1" y="26.3" font-size="15" fill="#f23645" stroke="#f23645" stroke-width="0.3" textLength="54.2" lengthAdjust="spacingAndGlyphs">4792.16</text>
<text x="189.8" y="26.3" font-size="15" fill="#131722" stroke="#131722" stroke-width="0.3" textLength="9.5" lengthAdjust="spacingAndGlyphs">H</text>
<text x="199.9" y="26.3" font-size="15" fill="#f23645" stroke="#f23645" stroke-width="0.3" textLength="55.2" lengthAdjust="spacingAndGlyphs">4884.87</text>
<text x="265.2" y="26.3" font-size="15" fill="#131722" stroke="#131722" stroke-width="0.3" textLength="7" lengthAdjust="spacingAndGlyphs">L</text>
<text x="272.7" y="26.3" font-size="15" fill="#f23645" stroke="#f23645" stroke-width="0.3" textLength="54.9" lengthAdjust="spacingAndGlyphs">4402.23</text>
<text x="337.3" y="26.3" font-size="15" fill="#131722" stroke="#131722" stroke-width="0.3" textLength="9.5" lengthAdjust="spacingAndGlyphs">C</text>
<text x="347.4" y="26.3" font-size="15" fill="#f23645" stroke="#f23645" stroke-width="0.3" textLength="54.9" lengthAdjust="spacingAndGlyphs">4667.75</text>
<text x="412" y="26.3" font-size="15" fill="#f23645" stroke="#f23645" stroke-width="0.3" textLength="119.2" lengthAdjust="spacingAndGlyphs">−183.84 (−3.79%)</text>
<text x="12.3" y="49.3" font-size="15" fill="#131722" stroke="#131722" stroke-width="0.3" textLength="313.8" lengthAdjust="spacingAndGlyphs">Moving Average Triple (50, 100, 200, Simple)</text>
<text x="336.2" y="49.3" font-size="15" fill="#ff6d00" stroke="#ff6d00" stroke-width="0.3" textLength="54.9" lengthAdjust="spacingAndGlyphs">4486.97</text>
<text x="401.6" y="49.3" font-size="15" fill="#2196f3" stroke="#2196f3" stroke-width="0.3" textLength="54.1" lengthAdjust="spacingAndGlyphs">4234.29</text>
<text x="466.2" y="49.3" font-size="15" fill="#26c6da" stroke="#26c6da" stroke-width="0.3" textLength="54.5" lengthAdjust="spacingAndGlyphs">3797.94</text>
<text x="12.3" y="72.1" font-size="15" fill="#131722" stroke="#131722" stroke-width="0.3" textLength="195" lengthAdjust="spacingAndGlyphs">Pivots (Traditional, Daily, 1)</text>
<text x="12.3" y="531.5" font-size="15" fill="#131722" stroke="#131722" stroke-width="0.3" textLength="226" lengthAdjust="spacingAndGlyphs">FXS Fed Sentiment Index (close)</text>
<text x="248.5" y="531.5" font-size="15" fill="#131722" stroke="#131722" stroke-width="0.3" textLength="47" lengthAdjust="spacingAndGlyphs">120.05</text>
<text x="305" y="531.5" font-size="15" fill="#aaaaaa" stroke="#aaaaaa" stroke-width="0.3" textLength="47" lengthAdjust="spacingAndGlyphs">100.00</text>
</svg>
</body></html>
